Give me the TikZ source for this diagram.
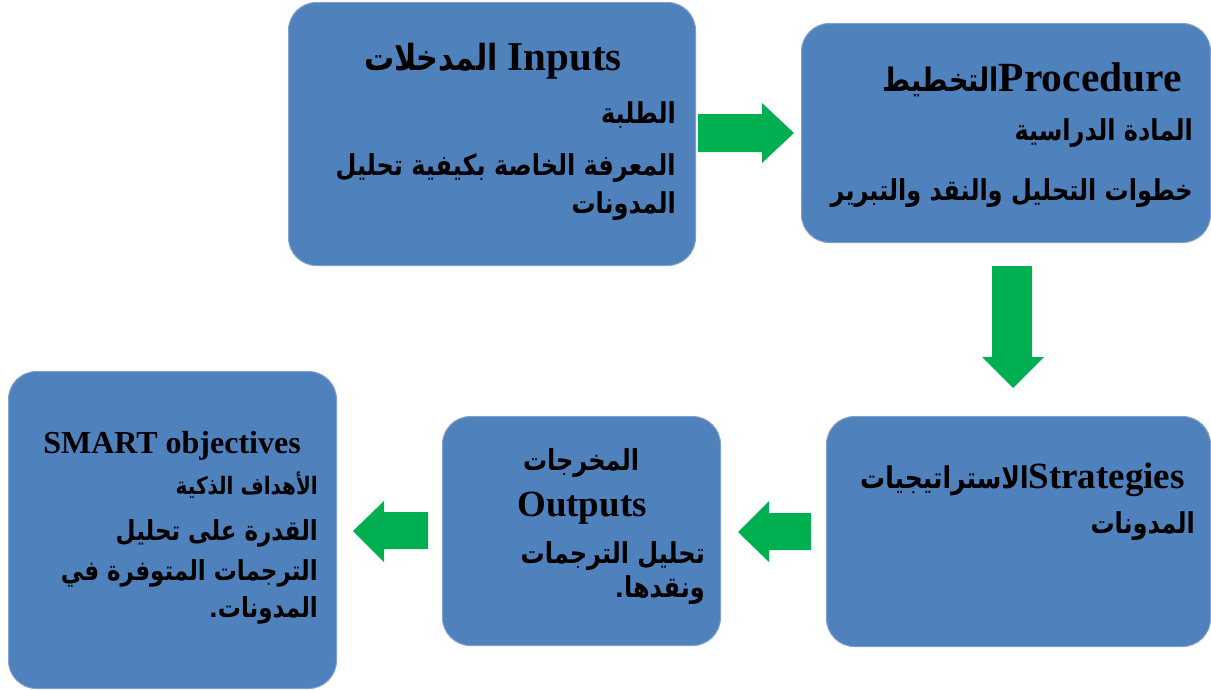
\documentclass[tikz,border=0pt]{standalone}
\usepackage{graphicx}
\usepackage{fontspec}
\setmainfont{Liberation Serif}
\newfontfamily\arfont[Script=Arabic]{DejaVu Sans}
\TeXXeTstate=1
\newcommand{\AR}[1]{\scalebox{1}[1.2]{\arfont\bfseries\beginR #1\endR}}
\newcommand{\fs}[1]{\fontsize{#1}{#1}\selectfont}
\definecolor{boxblue}{HTML}{4F81BD}
\definecolor{boxline}{HTML}{7F9FCC}
\definecolor{agreen}{HTML}{00B050}
\begin{document}
\begin{tikzpicture}[x=1pt,y=-1pt,
  box/.style={draw=boxline, fill=boxblue, line width=1pt, rounded corners=28pt, anchor=north west, inner sep=0pt},
  txt/.style={inner sep=0pt, font=\bfseries},
  garrow/.style={fill=agreen}]
\useasboundingbox (0,0) rectangle (1211,689);
% boxes
\node[box, minimum width=407pt, minimum height=263pt] (in) at (288,2) {};
\node[box, minimum width=409pt, minimum height=219pt] (pr) at (801,23) {};
\node[box, minimum width=384pt, minimum height=230pt] (st) at (826,416) {};
\node[box, minimum width=278pt, minimum height=229pt] (ou) at (442,416) {};
\node[box, minimum width=328pt, minimum height=317pt] (sm) at (8,371) {};
% Inputs box
\node[txt, anchor=base east] (in-t) at (622,70) {\AR{\fs{30}المدخلات}\fs{41} Inputs};
\node[txt, anchor=base east] (in-1) at (676,123) {\fs{24}\AR{الطلبة}};
\node[txt, anchor=base east] (in-2) at (676,175) {\fs{24}\AR{المعرفة الخاصة بكيفية تحليل}};
\node[txt, anchor=base east] (in-3) at (676,213) {\fs{24}\AR{المدونات}};
% Procedure box
\node[txt, anchor=base east] (pr-t) at (1182,91) {\AR{\fs{27}التخطيط}\fs{41.5}Procedure};
\node[txt, anchor=base east] (pr-1) at (1193,140) {\fs{24}\AR{المادة الدراسية}};
\node[txt, anchor=base east] (pr-2) at (1193,200) {\fs{24}\AR{خطوات التحليل والنقد والتبرير}};
% Strategies box
\node[txt, anchor=base east] (st-t) at (1185,488) {\AR{\fs{25}الاستراتيجيات}\fs{37}Strategies};
\node[txt, anchor=base east] (st-1) at (1195,533) {\fs{24}\AR{المدونات}};
% Outputs box
\node[txt, anchor=base] (ou-1) at (581,470) {\fs{24}\AR{المخرجات}};
\node[txt, anchor=base] (ou-t) at (582,516) {\fs{37}Outputs};
\node[txt, anchor=base east] (ou-2) at (705,563) {\fs{24}\AR{تحليل الترجمات}};
\node[txt, anchor=base east] (ou-3) at (705,597) {\fs{24}{\arfont\bfseries .}\AR{ونقدها}};
% SMART box
\node[txt, anchor=base] (sm-t) at (172,453) {\fs{32}SMART objectives};
\node[txt, anchor=base east] (sm-1) at (318,494) {\fs{20}\AR{الأهداف الذكية}};
\node[txt, anchor=base east] (sm-2) at (318,540) {\fs{23}\AR{القدرة على تحليل}};
\node[txt, anchor=base east] (sm-3) at (318,580) {\fs{23}\AR{الترجمات المتوفرة في}};
\node[txt, anchor=base east] (sm-4) at (318,617) {\fs{23}{\arfont\bfseries .}\AR{المدونات}};
% block arrows
\fill[garrow] (698,114) -- (762,114) -- (762,103) -- (794,133) -- (762,163) -- (762,152) -- (698,152) -- cycle;
\fill[garrow] (992,266) -- (1032,266) -- (1032,357) -- (1044,357) -- (1013,388) -- (982,357) -- (992,357) -- cycle;
\fill[garrow] (811,513) -- (769,513) -- (769,501) -- (738,532) -- (769,562) -- (769,550) -- (811,550) -- cycle;
\fill[garrow] (428,512) -- (384,512) -- (384,501) -- (353,531) -- (384,562) -- (384,549) -- (428,549) -- cycle;
\end{tikzpicture}
\end{document}
